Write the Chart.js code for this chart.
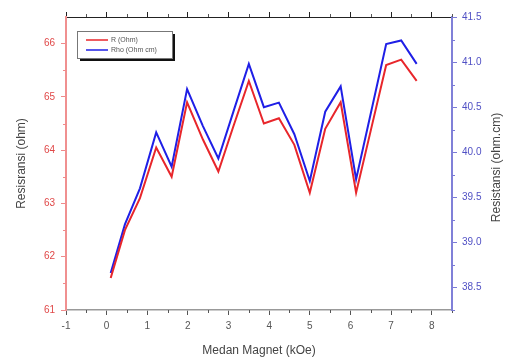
<!DOCTYPE html>
<html>
<head>
<meta charset="utf-8">
<script src="https://cdn.jsdelivr.net/npm/chart.js@4"></script>
<style>
  html, body { margin: 0; padding: 0; background: #fff; }
  #wrap { width: 507px; height: 359px; }
</style>
</head>
<body>
<div id="wrap"><canvas id="chart" width="507" height="359"></canvas></div>
<script>
// data
const field = [0.1, 0.45, 0.82, 1.22, 1.6, 1.98, 2.37, 2.75, 3.12, 3.5, 3.87, 4.24, 4.62, 5.0, 5.38, 5.76, 6.14, 6.51, 6.88, 7.25, 7.63];
const resistance = [61.6, 62.5, 63.1, 64.05, 63.5, 64.9, 64.2, 63.6, 64.45, 65.3, 64.5, 64.6, 64.1, 63.2, 64.4, 64.9, 63.2, 64.4, 65.6, 65.7, 65.3];
const resistivity = [38.66, 39.2, 39.6, 40.22, 39.84, 40.7, 40.29, 39.93, 40.45, 40.98, 40.5, 40.55, 40.2, 39.68, 40.45, 40.73, 39.7, 40.45, 41.2, 41.24, 40.98];
const xTicks = [-1, 0, 1, 2, 3, 4, 5, 6, 7, 8];
const leftTicks = [61, 62, 63, 64, 65, 66];
const rightTicks = [38.5, 39.0, 39.5, 40.0, 40.5, 41.0, 41.5];
const seriesLabels = ['R (Ohm)', 'Rho (Ohm cm)'];

const FONT = 'Liberation Sans, Arial, sans-serif';
const RED = '#e8262b';
const BLUE = '#1f1fe6';

function pts(ys) {
    return field.map((x, i) => ({ x: x, y: ys[i] }));
}
function fixTicks(list) {
    return function(scale) { scale.ticks = list.map(v => ({ value: v })); };
}

// short minor ticks half way between majors, drawn outward
const minorTicks = {
    id: 'minorTicks',
    afterDraw(chart) {
        const c = chart.ctx, a = chart.chartArea, s = chart.scales;
        c.save();
        c.lineWidth = 1;
        c.strokeStyle = '#555';
        for (let v = -0.5; v <= 8.5; v += 1) {
            const px = Math.round(s.x.getPixelForValue(v)) + 0.5;
            c.beginPath(); c.moveTo(px, a.bottom); c.lineTo(px, a.bottom + 3); c.stroke();
            c.beginPath(); c.moveTo(px, a.top); c.lineTo(px, a.top - 3); c.stroke();
        }
        c.strokeStyle = '#ef8a8a';
        for (let v = 61.5; v < 66.5; v += 1) {
            const py = Math.round(s.y.getPixelForValue(v)) + 0.5;
            c.beginPath(); c.moveTo(a.left, py); c.lineTo(a.left - 3, py); c.stroke();
        }
        c.strokeStyle = '#7a7ad6';
        for (let v = 38.25; v < 41.5; v += 0.5) {
            const py = Math.round(s.y2.getPixelForValue(v)) + 0.5;
            c.beginPath(); c.moveTo(a.right, py); c.lineTo(a.right + 3, py); c.stroke();
        }
        // right axis title, reading bottom to top
        c.fillStyle = '#444';
        c.font = '12px ' + FONT;
        c.textAlign = 'center';
        c.textBaseline = 'middle';
        c.translate(497, (a.top + a.bottom) / 2 + 4);
        c.rotate(-Math.PI / 2);
        c.fillText('Resistansi (ohm.cm)', 0, 0);
        c.restore();
    }
};

// boxed legend with a drop shadow, top-left inside the plot
const boxLegend = {
    id: 'boxLegend',
    afterDatasetsDraw(chart) {
        const c = chart.ctx;
        const x = 77, y = 31, w = 95, h = 27;
        c.save();
        c.fillStyle = '#111';
        c.fillRect(x + 3, y + 3, w, h);
        c.fillStyle = '#fff';
        c.fillRect(x, y, w, h);
        c.strokeStyle = '#777';
        c.lineWidth = 1;
        c.strokeRect(x + 0.5, y + 0.5, w, h);
        c.font = '7px ' + FONT;
        c.textBaseline = 'middle';
        chart.data.datasets.forEach((ds, i) => {
            const ly = y + 9 + i * 10;
            c.strokeStyle = ds.borderColor;
            c.lineWidth = 1.5;
            c.beginPath(); c.moveTo(x + 9, ly); c.lineTo(x + 31, ly); c.stroke();
            c.fillStyle = '#555';
            c.fillText(ds.label, x + 34, ly);
        });
        c.restore();
    }
};

new Chart(document.getElementById('chart').getContext('2d'), {
    type: 'line',
    data: {
        datasets: [
            { label: seriesLabels[0], data: pts(resistance), yAxisID: 'y', borderColor: RED, borderWidth: 2, pointRadius: 0, tension: 0 },
            { label: seriesLabels[1], data: pts(resistivity), yAxisID: 'y2', borderColor: BLUE, borderWidth: 2, pointRadius: 0, tension: 0 }
        ]
    },
    options: {
        responsive: false,
        animation: false,
        layout: { padding: 0 },
        plugins: { legend: { display: false }, tooltip: { enabled: false } },
        scales: {
            x: {
                type: 'linear', position: 'bottom', min: -1, max: 8.5,
                afterBuildTicks: fixTicks(xTicks),
                afterFit(s) { s.height = 49; },
                grid: { drawOnChartArea: false, tickLength: 5, color: '#555' },
                border: { color: '#999', width: 1.5 },
                ticks: { color: '#555', font: { family: FONT, size: 10 }, padding: 5, maxRotation: 0 },
                title: { display: true, text: 'Medan Magnet (kOe)', color: '#444', font: { family: FONT, size: 12 }, padding: { top: 4, bottom: 1 } }
            },
            xTop: {
                type: 'linear', position: 'top', min: -1, max: 8.5,
                afterBuildTicks: fixTicks(xTicks),
                afterFit(s) { s.height = 17; },
                grid: { drawOnChartArea: false, tickLength: 5, color: '#222' },
                border: { color: '#222', width: 1 },
                ticks: { display: false }
            },
            y: {
                type: 'linear', position: 'left', min: 61, max: 66.5,
                afterBuildTicks: fixTicks(leftTicks),
                afterFit(s) { s.width = 66; },
                grid: { drawOnChartArea: false, tickLength: 5, color: '#ef8a8a' },
                border: { color: '#f09090', width: 2 },
                ticks: { color: '#e04848', font: { family: FONT, size: 10 }, padding: 6, callback: v => String(v) },
                title: { display: true, text: 'Resisransi (ohm)', color: '#444', font: { family: FONT, size: 12 }, padding: { top: 14, bottom: 0 } }
            },
            y2: {
                type: 'linear', position: 'right', min: 38.25, max: 41.5,
                afterBuildTicks: fixTicks(rightTicks),
                afterFit(s) { s.width = 55; },
                grid: { drawOnChartArea: false, tickLength: 5, color: '#7a7ad6' },
                border: { color: '#8080d8', width: 2 },
                ticks: { color: '#5050c4', font: { family: FONT, size: 10 }, padding: 5, callback: v => v.toFixed(1) }
            }
        }
    },
    plugins: [minorTicks, boxLegend]
});
</script>
</body>
</html>
